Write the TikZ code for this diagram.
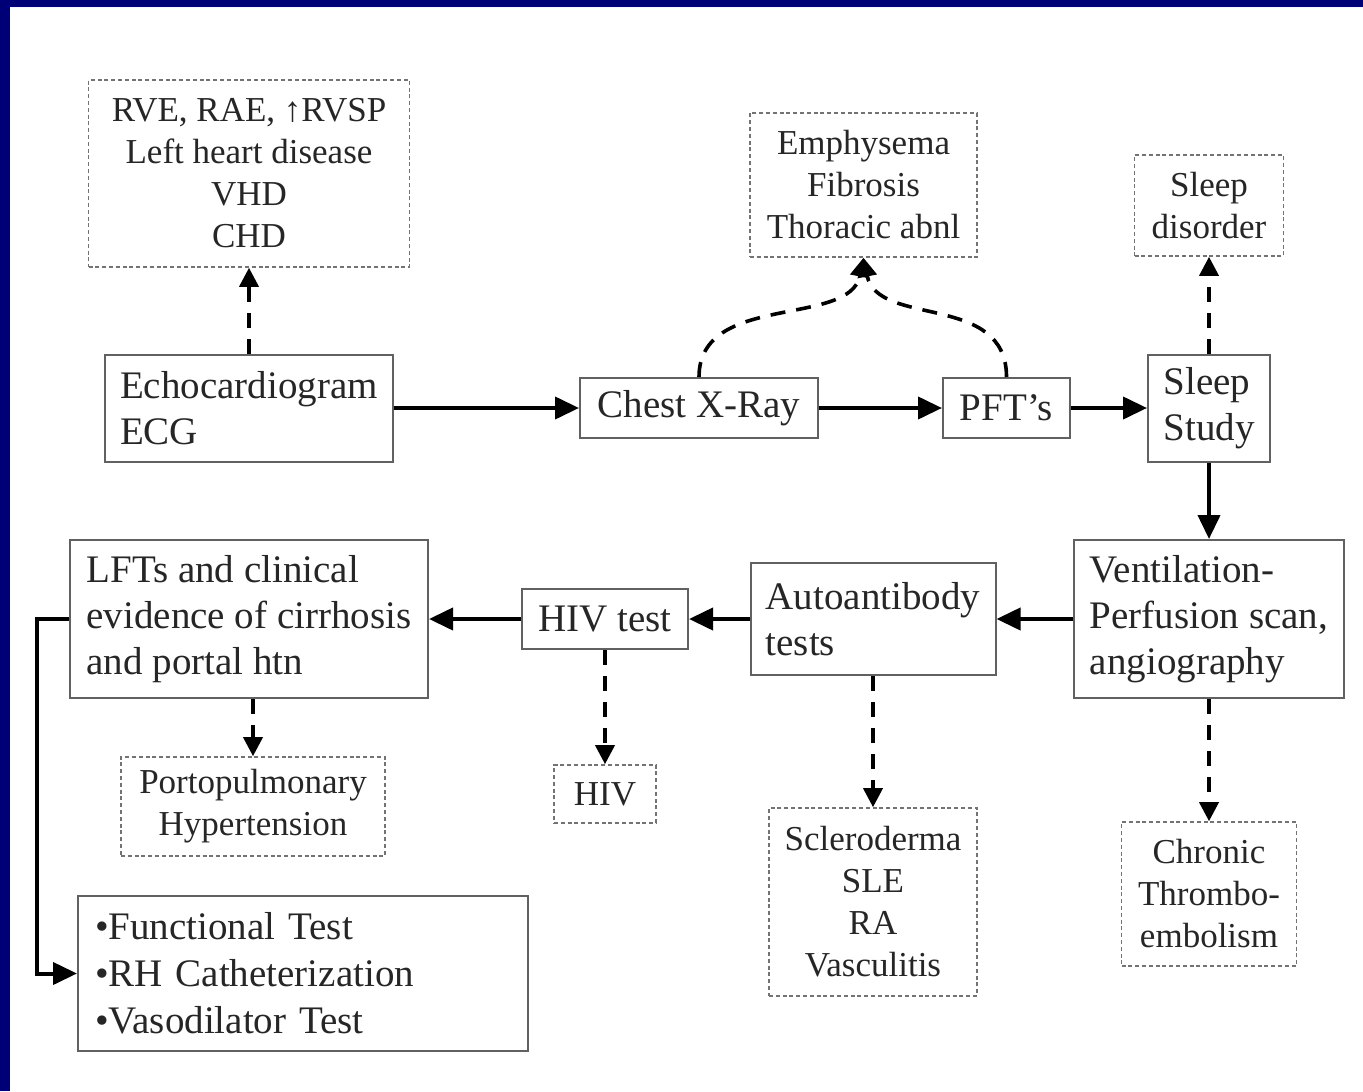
\documentclass[tikz,border=0pt]{standalone}
\usepackage{fontspec}
\setmainfont{Liberation Serif}
\usetikzlibrary{arrows.meta}
\definecolor{slidenavy}{RGB}{0,0,118}

\begin{document}
\begin{tikzpicture}[x=0.5pt, y=-0.5pt,
    solidbox/.style={draw=black!62, line width=1pt, fill=white, align=left, inner sep=0pt, text=black!85, font=\fontsize{19.5}{23}\selectfont},
    dotbox/.style={draw=black!55, line width=0.8pt, dash pattern=on 2pt off 1.4pt, fill=white, align=center, inner sep=0pt, text=black!85, font=\fontsize{17.5}{21}\selectfont},
    flow/.style={line width=2pt, -{Triangle[length=12pt,width=11pt]}},
    hint/.style={line width=1.8pt, dash pattern=on 7.5pt off 5.5pt, -{Triangle[length=9.5pt,width=9.5pt]}}]
        % Frame
        \useasboundingbox (0,0) rectangle (1363,1091);
        \fill[slidenavy] (0,0) rectangle (1363,1091);
        \fill[white] (10,7) rectangle (1363,1091);

        % Upper row
        \node[solidbox, minimum width=144pt, minimum height=53.5pt] (echo) at (249,408) {Echocardiogram\\ECG};
        \node[solidbox, minimum width=119pt, minimum height=30pt] (cxr) at (699,408) {Chest X-Ray};
        \node[solidbox, minimum width=63.5pt, minimum height=30pt] (pft) at (1006.5,408) {PFT’s};
        \node[solidbox, minimum width=61pt, minimum height=53.5pt] (sleep) at (1209,408) {Sleep\\Study};

        % Findings above
        \node[dotbox, minimum width=160.5pt, minimum height=93.5pt] (rve) at (249,173.5) {RVE, RAE, ↑RVSP\\Left heart disease\\VHD\\CHD};
        \node[dotbox, minimum width=113.5pt, minimum height=72pt] (emph) at (863.5,185) {Emphysema\\Fibrosis\\Thoracic abnl};
        \node[dotbox, minimum width=74.5pt, minimum height=50.5pt] (sdis) at (1209,205.5) {Sleep\\disorder};

        % Lower row
        \node[solidbox, minimum width=135pt, minimum height=79pt] (vq) at (1209,619) {Ventilation-\\Perfusion scan,\\angiography};
        \node[solidbox, minimum width=122.5pt, minimum height=56pt] (auto) at (873,619) {Autoantibody\\tests};
        \node[solidbox, minimum width=83pt, minimum height=30pt] (hivt) at (605,619) {HIV test};
        \node[solidbox, minimum width=179pt, minimum height=79pt] (lft) at (249,619) {LFTs and clinical\\evidence of cirrhosis\\and portal htn};
        \node[solidbox, minimum width=225pt, minimum height=77.5pt, text width=208pt, font=\fontsize{19.5}{23.5}\selectfont] (func) at (303,973.5) {•Functional Test\\•RH Catheterization\\•Vasodilator Test};

        % Findings below
        \node[dotbox, minimum width=132pt, minimum height=49.5pt] (porto) at (253,806.5) {Portopulmonary\\Hypertension};
        \node[dotbox, minimum width=51pt, minimum height=29pt] (hiv) at (605,794) {HIV};
        \node[dotbox, minimum width=104pt, minimum height=94pt] (scl) at (873,902) {Scleroderma\\SLE\\RA\\Vasculitis};
        \node[dotbox, minimum width=87.5pt, minimum height=72pt] (cte) at (1209,894) {Chronic\\Thrombo-\\embolism};

        % Main path
        \draw[flow] (echo) -- (cxr);
        \draw[flow] (cxr) -- (pft);
        \draw[flow] (pft) -- (sleep);
        \draw[flow] (sleep) -- (vq);
        \draw[flow] (vq) -- (auto);
        \draw[flow] (auto) -- (hivt);
        \draw[flow] (hivt) -- (lft);
        \draw[flow] (lft.west) -- ++(-32,0) |- (func.west);

        % Dashed hints
        \draw[hint] (echo) -- (rve);
        \draw[hint] (cxr.north) .. controls +(0,-85) and +(-14,70) .. (emph.south);
        \draw[hint] (pft.north) .. controls +(0,-85) and +(14,70) .. (emph.south);
        \draw[hint] (sleep) -- (sdis);
        \draw[hint] (porto.north |- lft.south) -- (porto.north);
        \draw[hint] (hivt) -- (hiv);
        \draw[hint] (auto) -- (scl);
        \draw[hint] (vq) -- (cte);
\end{tikzpicture}
\end{document}
